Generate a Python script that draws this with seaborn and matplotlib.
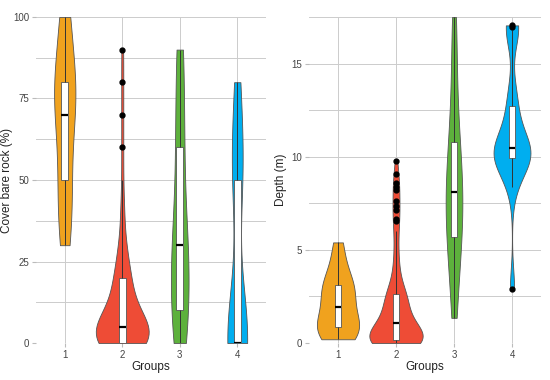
import numpy as np
import pandas as pd
import matplotlib
matplotlib.use("Agg")
import matplotlib.pyplot as plt
from matplotlib.ticker import MultipleLocator
import seaborn as sns

groups = ["1", "2", "3", "4"]
colors = ["#F0A21E", "#EE4C36", "#5DB13C", "#00AEEF"]

# cover of bare rock (%) per group
cover_g1 = [30, 35, 40, 50, 50, 60, 70, 70, 75, 80, 80, 80, 90, 100, 100]
cover_g2 = ([0] * 18 + [2] * 4 + [5] * 14 + [10] * 8 + [15] * 4 + [20] * 6
            + [25] * 2 + [30] * 3 + [40] * 2 + [50, 60, 70, 80, 90])
cover_g3 = [0, 0, 5, 10, 10, 10, 20, 20, 30, 30, 30, 30, 40, 50, 60, 60, 70, 80, 90, 90]
cover_g4 = [0] * 8 + [10, 50, 50, 50, 60, 70, 80]

# depth (m) per group
depth_g1 = [0.2, 0.3, 0.5, 0.8, 0.9, 1.0, 1.4, 1.95, 2.3, 2.7, 3.0, 3.2, 3.6, 4.4, 5.4]
depth_g2 = ([0.0] * 7 + [0.05] * 6 + [0.1] * 7 + [0.15]
            + [0.2, 0.2, 0.25, 0.3, 0.3, 0.35, 0.4, 0.4, 0.45, 0.5, 0.5, 0.6, 0.6, 0.7, 0.75, 0.8, 0.85, 0.9, 1.0]
            + [1.05]
            + [1.1, 1.2, 1.25, 1.3, 1.4, 1.5, 1.6, 1.7, 1.8, 1.9, 2.0, 2.1, 2.2, 2.3, 2.4, 2.45, 2.5, 2.55, 2.6]
            + [2.65]
            + [2.8, 3.0, 3.2, 3.5, 3.8, 4.1, 4.5, 5.0, 5.5, 6.0]
            + [6.55, 6.65, 7.15, 7.35, 7.6, 8.2, 8.4, 8.6, 9.05, 9.75])
depth_g3 = [1.35, 3.0, 4.2, 5.0, 5.7, 6.3, 7.0, 7.5, 8.1, 8.6, 9.3, 10.0, 10.8, 12.0, 13.5, 15.5, 17.5]
depth_g4 = [2.9, 8.4, 9.4, 9.8, 9.93, 10.0, 10.1, 10.3, 10.45, 10.6, 11.0, 11.8, 12.7, 13.5, 16.8, 16.95, 17.05]


def long_df(vals, name):
    rows = []
    for g, v in zip(groups, vals):
        for x in v:
            rows.append((g, x))
    return pd.DataFrame(rows, columns=["Groups", name])


cover = long_df([cover_g1, cover_g2, cover_g3, cover_g4], "cover")
depth = long_df([depth_g1, depth_g2, depth_g3, depth_g4], "depth")


def nrd0(kde):
    # R's default bandwidth (as used by ggplot), returned as factor of the sd
    x = kde.dataset.ravel()
    sd = x.std(ddof=1)
    iqr = np.subtract(*np.percentile(x, [75, 25]))
    lo = min(sd, iqr / 1.34) if iqr > 0 else sd
    return 0.9 * lo * len(x) ** -0.2 / sd


plt.rcParams["font.family"] = ["Liberation Sans", "DejaVu Sans"]

fig = plt.figure(figsize=(5.5, 3.8), dpi=100)
ax1 = fig.add_axes([36 / 550, 37 / 380, 230 / 550, 326 / 380])
ax2 = fig.add_axes([309 / 550, 37 / 380, 232 / 550, 326 / 380])


def draw(ax, df, col, ylab, ymax, major, labx):
    ax.set_axisbelow(True)
    sns.violinplot(data=df, x="Groups", y=col, hue="Groups", order=groups,
                   palette=colors, saturation=1, cut=0, inner=None,
                   density_norm="area", common_norm=True, width=0.92,
                   linewidth=0.6, linecolor="#555555", bw_method=nrd0,
                   legend=False, ax=ax)
    sns.boxplot(data=df, x="Groups", y=col, order=groups, color="white",
                saturation=1, width=0.12, linewidth=0.6, linecolor="#333333",
                showcaps=False, fliersize=3.5,
                flierprops=dict(marker="o", markerfacecolor="black", markeredgecolor="black"),
                medianprops=dict(color="black", linewidth=1.6),
                whiskerprops=dict(color="#333333", linewidth=0.7),
                boxprops=dict(facecolor="white", edgecolor="#555555"),
                ax=ax)
    ax.set_xlim(-0.5, 3.5)
    ax.set_ylim(0, ymax)
    ax.yaxis.set_major_locator(MultipleLocator(major))
    ax.yaxis.set_minor_locator(MultipleLocator(major / 2))
    ax.grid(which="major", color="#cccccc", linewidth=0.7)
    ax.grid(which="minor", axis="y", color="#cccccc", linewidth=0.7)
    for s in ax.spines.values():
        s.set_visible(False)
    ax.tick_params(which="major", length=3, color="#bbbbbb", labelsize=7,
                   labelcolor="#444444", pad=2)
    ax.tick_params(which="minor", length=0)
    ax.set_xlabel("Groups", fontsize=8.5, color="#222222", labelpad=1)
    ax.set_ylabel(ylab, fontsize=8.5, color="#222222")
    ax.yaxis.set_label_coords(labx, 0.5)


draw(ax1, cover, "cover", "Cover bare rock (%)", 100, 25, -0.1)
draw(ax2, depth, "depth", "Depth (m)", 17.5, 5, -0.095)

fig.savefig("out.png", dpi=100)
